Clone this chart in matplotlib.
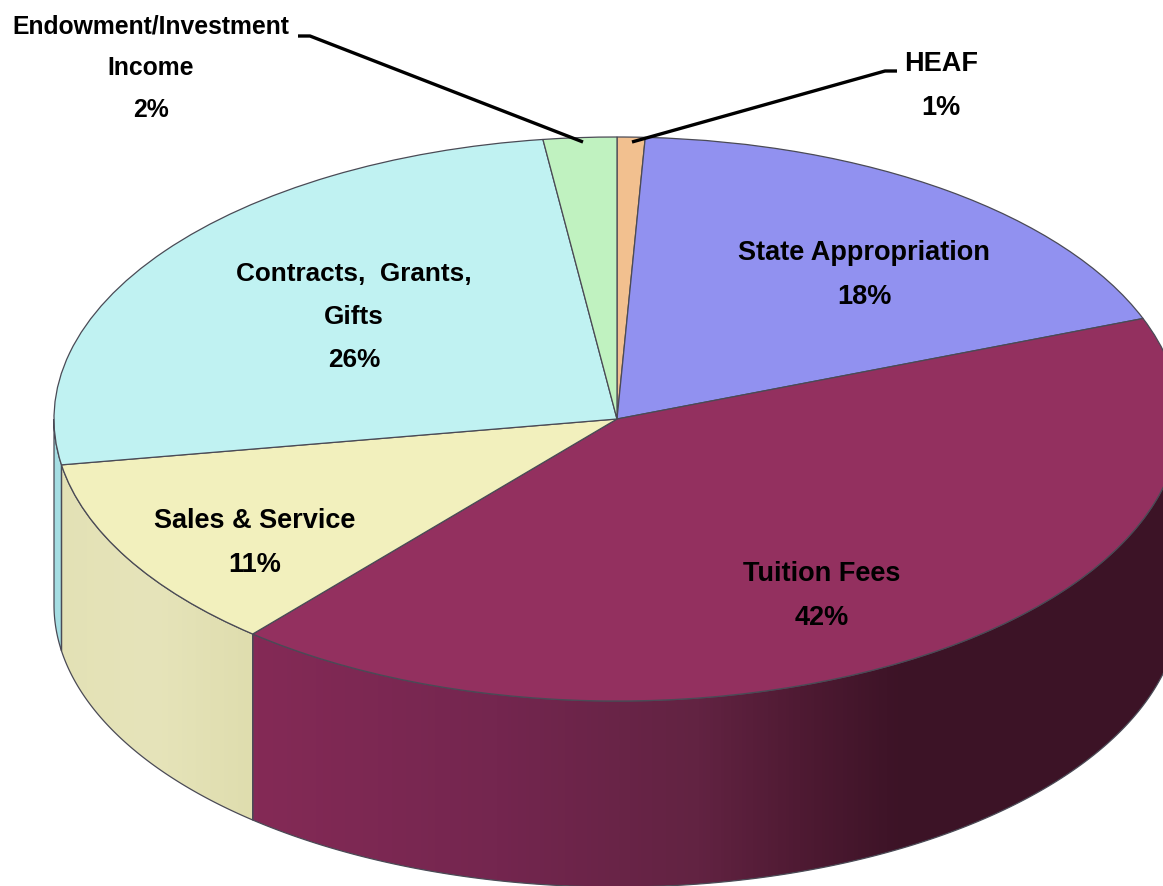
import numpy as np
import matplotlib
matplotlib.use("Agg")
import matplotlib.pyplot as plt
from matplotlib.patches import Polygon
from matplotlib.transforms import Affine2D
from matplotlib.colors import LinearSegmentedColormap

categories = ["HEAF", "State Appropriation", "Tuition Fees", "Sales & Service",
              "Contracts, Grants, Gifts", "Endowment/Investment Income"]
values = [0.8, 18.4, 42.0, 11.2, 25.5, 2.1]
top_colors = ["#f2c08f", "#9191f0", "#93305f", "#f2f0bd", "#c0f2f2", "#c0f2c0"]
label_texts = ["HEAF\n1%", "State Appropriation\n18%", "Tuition Fees\n42%",
               "Sales & Service\n11%", "Contracts,  Grants,\nGifts\n26%",
               "Endowment/Investment\nIncome\n2%"]
label_px = [(941, 86), (864, 275), (822, 596), (255, 543), (354, 317), (151, 68)]
label_size = [19.5, 19.5, 19.5, 19.5, 18.8, 17.8]
label_spacing = [1.93, 1.93, 1.93, 1.93, 2.0, 1.94]
leaders_px = [[(897, 72), (885, 72), (632, 143)],
              [(298, 37), (310, 37), (583, 143)]]

W, H = 1163, 887
CX, CY, RX, RY, DEPTH = 617, 420, 563, 282, 186

fig = plt.figure(figsize=(W / 100, H / 100), dpi=100, facecolor="white")
ax = fig.add_axes([0, 0, 1, 1])
EDGE = "#4a4a55"
ax.pie(values, colors=top_colors, startangle=90, counterclock=False, radius=1,
       wedgeprops=dict(edgecolor=EDGE, linewidth=0.9, zorder=5))
ax.set_aspect("auto")
ax.set_xlim(-CX / RX, (W - CX) / RX)
ax.set_ylim(-(H - CY) / RY, CY / RY)
ax.axis("off")
d = DEPTH / RY


def wall_polygon(a0, a1):
    """Wall between two clockwise-from-top angles (degrees), front half only."""
    t = np.radians(np.linspace(a0, a1, 200))
    x, y = np.sin(t), np.cos(t)
    return np.r_[np.c_[x, y], np.c_[x, y - d][::-1]]


def draw_wall(a0, a1, stops, x_range):
    poly = Polygon(wall_polygon(a0, a1), closed=True, facecolor="none",
                   edgecolor=EDGE, linewidth=0.9, zorder=3)
    ax.add_patch(poly)
    cmap = LinearSegmentedColormap.from_list("g", stops)
    grad = np.linspace(0, 1, 256)[None, :]
    im = ax.imshow(grad, cmap=cmap, aspect="auto", zorder=2,
                   extent=[x_range[0], x_range[1], -3, 2], interpolation="bilinear")
    im.set_clip_path(poly)


cum = np.cumsum(values) / sum(values) * 360
xlim = ax.get_xlim()
ylim = ax.get_ylim()
# Tuition Fees wall (visible from the right-most point to the end of the slice)
draw_wall(90, cum[2],
          [(0, "#842a56"), (0.26, "#74264f"), (0.48, "#622342"), (0.59, "#4f1a33"),
           (0.7, "#3c1326"), (1, "#3c1326")],
          (np.sin(np.radians(cum[2])), 1.0))
# Sales & Service wall
draw_wall(cum[2], cum[3], [(0, "#e3e1b5"), (0.5, "#e6e4ba"), (1, "#dfddae")],
          (-1, np.sin(np.radians(cum[2]))))
# Contracts wall (sliver on the far left)
draw_wall(cum[3], 270, ["#a4dde2", "#a8e0e6"], (-1, np.sin(np.radians(cum[3]))))
ax.set_xlim(xlim)
ax.set_ylim(ylim)

px = Affine2D().scale(1 / W, -1 / H).translate(0, 1) + fig.transFigure
for txt, (x, y), fs, ls in zip(label_texts, label_px, label_size, label_spacing):
    ax.text(x, y, txt, transform=px, ha="center", va="center", ma="center",
            family=["Liberation Sans", "DejaVu Sans"],
            weight="bold", fontsize=fs, linespacing=ls, color="black", zorder=10)
for pts in leaders_px:
    xs, ys = zip(*pts)
    ax.plot(xs, ys, transform=px, color="black", lw=2.4, zorder=10, solid_capstyle="butt")

fig.savefig("out.png", dpi=100, facecolor="white")
